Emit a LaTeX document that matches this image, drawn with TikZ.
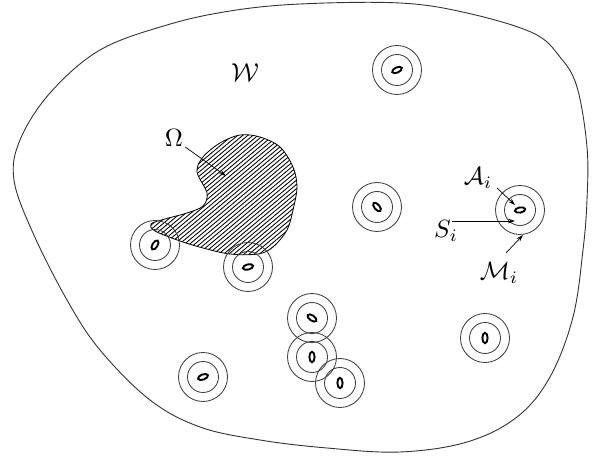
\documentclass[tikz,border=0pt]{standalone}
\usepackage{graphicx}
\usetikzlibrary{arrows.meta}
\newcommand{\biglab}[2]{\scalebox{#1}{$#2$}}
\begin{document}
\begin{tikzpicture}[x=1pt,y=-1pt,
  outline/.style={line width=0.9pt,black!80},
  ring/.style={line width=0.85pt,black!75},
  core/.style={line width=1.9pt,black},
  hatch/.style={line width=0.85pt,black},
  lab/.style={inner sep=1pt},
  pointer/.style={line width=0.7pt,-{Stealth[length=7pt,width=4.5pt]}}]
\useasboundingbox (0,0) rectangle (598,457);
% outer region W
\draw[outline] plot[smooth cycle,tension=0.6] coordinates {
 (300,4) (400,3) (467,13) (533,33) (560,57) (577,87) (587,147) (587,200)
 (583,250) (573,317) (550,377) (517,417) (467,442) (400,452) (327,448)
 (260,440) (200,427) (150,400) (100,350) (67,300) (33,233) (14,180) (20,140)
 (50,93) (100,50) (167,25) (230,11)};
% Omega hatched region
\def\omegapath{plot[smooth cycle,tension=0.55] coordinates {
 (197,172) (203,157) (220,143) (240,135) (260,137) (280,147) (293,167)
 (297,187) (293,210) (287,230) (273,247) (258,254) (230,254) (203,248)
 (180,241) (155,231) (151,224) (165,219) (187,213) (203,206) (207,193)}}
\begin{scope}
 \clip \omegapath;
 \foreach \k in {0,...,62} {
   \draw[hatch] (\k*5.1,262) -- ++(40:200pt);
 }
\end{scope}
\draw[line width=0.8pt] \omegapath;
% rings
\foreach \n/\x/\y/\a in {t/397/70/25, m/377/207/-50, r/520/210/10, lr/485/338/90,
   bl/203/377/20, s1/312/318/-35, s2/312/357/90, s3/340/383/92,
   l/155/245/58, b/248/267/15} {
  \coordinate (c\n) at (\x,\y);
  \draw[ring] (c\n) circle[radius=24.5];
  \draw[ring] (c\n) circle[radius=15.5];
  \draw[core,rotate around={\a:(c\n)}] (c\n) ellipse[x radius=5.2, y radius=2.6];
}
% labels
\node[lab] (W) at (245,73) {\biglab{2.6}{\mathcal{W}}};
\node[lab] (Om) at (174,138) {\biglab{2.5}{\Omega}};
\coordinate (omtip) at (226,176);
\draw[pointer] (Om.east) ++(1,9) coordinate (omst) (omst) -- (omtip);
\node[lab] (A) at (478,178) {\biglab{2.5}{\mathcal{A}_i}};
\coordinate (atip) at (515,205);
\draw[pointer] (497,188) coordinate (ast) (ast) -- (atip);
\node[lab] (S) at (446,231) {\biglab{2.5}{S_i}};
\coordinate (stip) at (515,221);
\draw[pointer] (452,221) coordinate (sst) (sst) -- (stip);
\node[lab] (M) at (499,273) {\biglab{2.5}{\mathcal{M}_i}};
\coordinate (mtip) at (523,235);
\draw[pointer] (506,253) coordinate (mst) (mst) -- (mtip);
\end{tikzpicture}
\end{document}
